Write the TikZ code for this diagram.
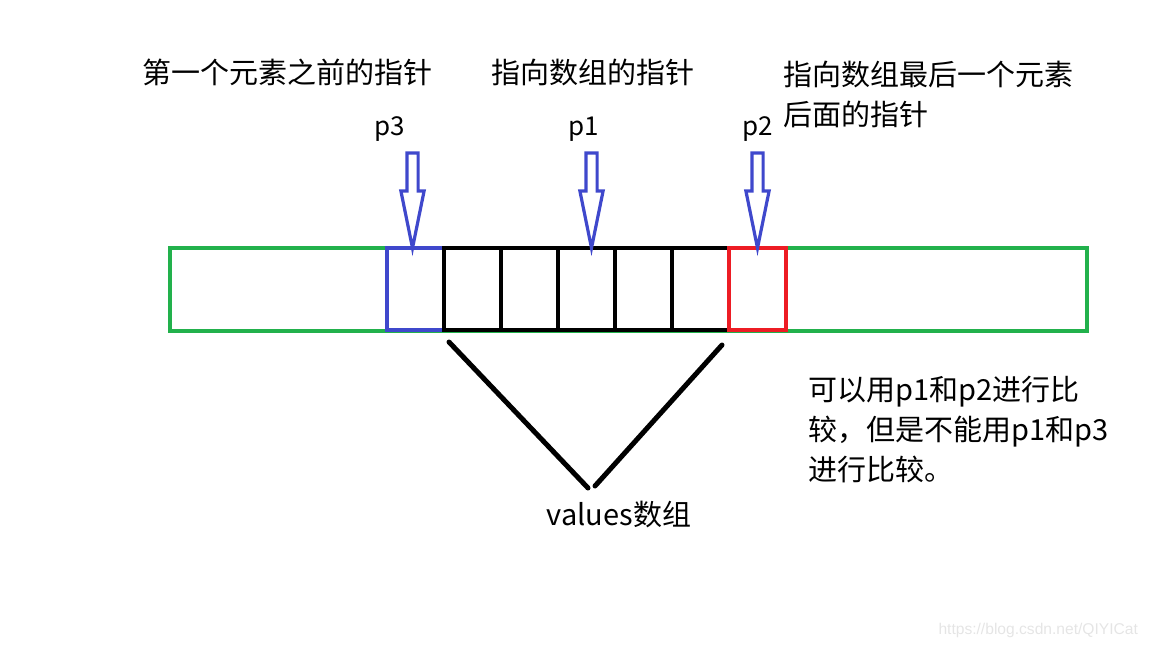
\documentclass[tikz,border=0pt]{standalone}
\usepackage{fontspec}
\setmainfont{Noto Sans CJK SC}
\newfontfamily\urlfont{Liberation Sans}
\usepackage{tikz}
\usetikzlibrary{positioning, shapes.arrows, calc}
\definecolor{bargreen}{HTML}{22B14C}
\definecolor{ptrblue}{HTML}{3F48CC}
\definecolor{endred}{HTML}{ED1C24}

\begin{document}
\begin{tikzpicture}[
    x=0.5pt, y=-0.5pt,
    cell/.style={rectangle, draw, line width=2.4pt, minimum width=28.5pt, minimum height=41pt, inner sep=0pt, outer sep=0pt},
    ptr/.style={single arrow, draw=ptrblue, line width=1.6pt, shape border rotate=270, minimum height=47.5pt, inner sep=2pt, single arrow head extend=3pt, single arrow tip angle=23, outer sep=0pt},
    ptrlabel/.style={font=\fontsize{13}{15}\selectfont},
    note/.style={font=\fontsize{14.5}{20}\selectfont, align=left},
    brace/.style={line width=2.5pt, line cap=round},
]
\useasboundingbox (0,0) rectangle (1152,648);

\node[draw=bargreen, line width=2pt, minimum width=458.5pt, minimum height=41.5pt, inner sep=0pt] (bar) at (628.5,289.5) {};

\node[cell, draw=ptrblue, line width=2pt] (c0) at (415.5,289) {};
\foreach \i [count=\j from 0] in {1,...,5}
    \node[cell, right=0pt of c\j] (c\i) {};
\node[cell, draw=endred, line width=2pt, right=0pt of c5] (c6) {};

\node[ptr, anchor=tip] (a0) at ([xshift=-1.5pt]c0.north) {};
\node[ptr, anchor=tip] (a3) at ([xshift=2.5pt]c3.north) {};
\node[ptr, anchor=tip] (a6) at (c6.north) {};

\node[ptrlabel, above=2pt of a0.tail, xshift=-11.5pt] (p3) {p3};
\node[ptrlabel, above=2pt of a3.tail, xshift=-4pt] (p1) {p1};
\node[ptrlabel, above=2pt of a6.tail] (p2) {p2};

\node[note] (before) at (287.5,72) {第一个元素之前的指针};
\node[note] (begin) at (592.5,72) {指向数组的指针};
\node[note, anchor=west] (after) at (776,94) {指向数组最后一个元素\\后面的指针};

\node[note, anchor=west] (cmp) at (801,430) {可以用p1和p2进行比\\较，但是不能用p1和p3\\进行比较。};

\node[note] (vals) at (619,515) {values数组};
\coordinate (apexL) at (588,488);
\coordinate (apexR) at (595,486);
\draw[brace] ([xshift=2.5pt,yshift=-6pt]c1.south west) -- (apexL);
\draw[brace] ([xshift=-3.5pt,yshift=-7.5pt]c5.south east) -- (apexR);

\node[font=\urlfont\fontsize{7.8}{9}\selectfont, text=black!10, anchor=east] (wm) at (1145,630) {https://blog.csdn.net/QIYICat};

\end{tikzpicture}
\end{document}
